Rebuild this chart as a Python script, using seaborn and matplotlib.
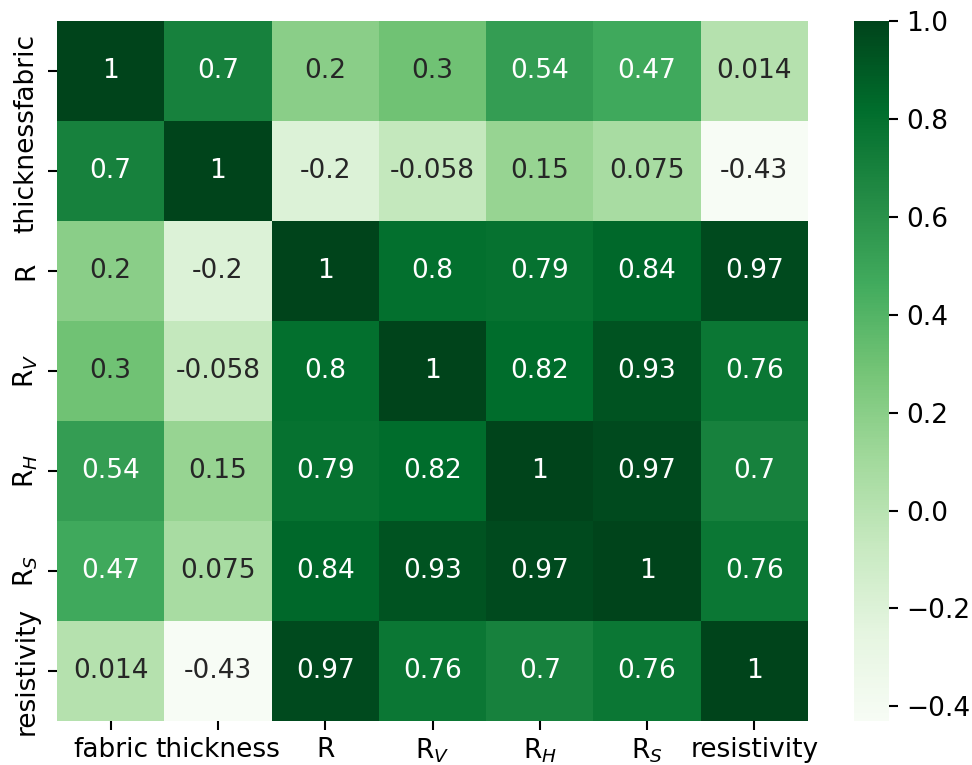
import numpy as np
import pandas as pd
import matplotlib
matplotlib.use("Agg")
import matplotlib.pyplot as plt
import seaborn as sns

# Correlation matrix between fabric properties and resistance measures
labels = ["fabric", "thickness", "R", "R$_V$", "R$_H$", "R$_S$", "resistivity"]
row_fabric = [1, 0.7, 0.2, 0.3, 0.54, 0.47, 0.014]
row_thickness = [0.7, 1, -0.2, -0.058, 0.15, 0.075, -0.43]
row_r = [0.2, -0.2, 1, 0.8, 0.79, 0.84, 0.97]
row_rv = [0.3, -0.058, 0.8, 1, 0.82, 0.93, 0.76]
row_rh = [0.54, 0.15, 0.79, 0.82, 1, 0.97, 0.7]
row_rs = [0.47, 0.075, 0.84, 0.93, 0.97, 1, 0.76]
row_resistivity = [0.014, -0.43, 0.97, 0.76, 0.7, 0.76, 1]

corr = pd.DataFrame(
    [row_fabric, row_thickness, row_r, row_rv, row_rh, row_rs, row_resistivity],
    index=labels, columns=labels,
)

fs = 19
plt.rcParams["font.family"] = ["DejaVu Sans"]
plt.rcParams["xtick.major.size"] = 6.5
plt.rcParams["ytick.major.size"] = 6.5
plt.rcParams["xtick.major.width"] = 1.5
plt.rcParams["ytick.major.width"] = 1.5
plt.rcParams["xtick.major.pad"] = 5
plt.rcParams["ytick.major.pad"] = 6

W, H = 972, 765
fig = plt.figure(figsize=(W / 100, H / 100), dpi=100)
ax = fig.add_axes([57 / W, 1 - 721 / H, 751 / W, 700 / H])
cax = fig.add_axes([854 / W, 1 - 721 / H, 35 / W, 700 / H])

sns.heatmap(corr, annot=True, cmap="Greens", ax=ax, cbar_ax=cax,
            annot_kws={"fontsize": fs})

ax.tick_params(axis="x", labelsize=fs, rotation=0)
ax.tick_params(axis="y", labelsize=fs)
for t in ax.get_yticklabels():
    t.set_rotation(90)
    t.set_va("center")
cax.tick_params(labelsize=fs)
cax.set_yticks([-0.4, -0.2, 0.0, 0.2, 0.4, 0.6, 0.8, 1.0])

fig.savefig("out.png", dpi=100)
